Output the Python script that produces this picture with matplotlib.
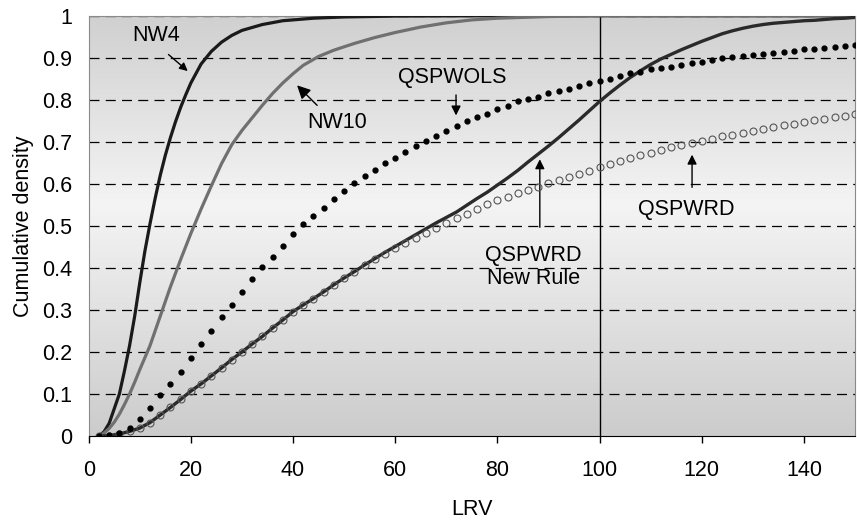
import numpy as np
import matplotlib
matplotlib.use("Agg")
import matplotlib.pyplot as plt
from matplotlib.colors import LinearSegmentedColormap

plt.rcParams['font.family'] = ['Liberation Sans', 'DejaVu Sans']

# grid of the marker series (LRV)
lrv = np.arange(2, 151, 2)

qspwols = [0.000, 0.002, 0.008, 0.020, 0.040, 0.067, 0.097, 0.123, 0.152, 0.185,
           0.218, 0.250, 0.282, 0.312, 0.342, 0.373, 0.401, 0.427, 0.452, 0.480,
           0.504, 0.524, 0.543, 0.564, 0.582, 0.601, 0.619, 0.634, 0.649, 0.661,
           0.675, 0.689, 0.703, 0.714, 0.726, 0.737, 0.749, 0.758, 0.767, 0.777,
           0.786, 0.796, 0.802, 0.807, 0.815, 0.821, 0.826, 0.833, 0.839, 0.845,
           0.850, 0.857, 0.863, 0.867, 0.872, 0.875, 0.879, 0.883, 0.887, 0.891,
           0.895, 0.899, 0.901, 0.904, 0.906, 0.910, 0.912, 0.914, 0.917, 0.920,
           0.921, 0.923, 0.926, 0.927, 0.930]

qspwrd = [0.000, 0.001, 0.005, 0.011, 0.019, 0.032, 0.050, 0.068, 0.087, 0.107,
          0.124, 0.143, 0.162, 0.182, 0.200, 0.219, 0.237, 0.257, 0.276, 0.296,
          0.312, 0.327, 0.343, 0.360, 0.376, 0.390, 0.406, 0.420, 0.434, 0.447,
          0.460, 0.472, 0.484, 0.496, 0.507, 0.518, 0.529, 0.540, 0.551, 0.561,
          0.569, 0.577, 0.585, 0.593, 0.601, 0.608, 0.616, 0.623, 0.631, 0.639,
          0.647, 0.654, 0.661, 0.668, 0.673, 0.680, 0.687, 0.692, 0.697, 0.702,
          0.707, 0.713, 0.717, 0.721, 0.726, 0.730, 0.735, 0.739, 0.743, 0.747,
          0.751, 0.755, 0.758, 0.761, 0.765]

new_rule = [0.000, 0.001, 0.005, 0.011, 0.019, 0.032, 0.050, 0.068, 0.087, 0.107,
            0.124, 0.143, 0.162, 0.182, 0.200, 0.219, 0.237, 0.257, 0.276, 0.296,
            0.312, 0.327, 0.343, 0.360, 0.376, 0.391, 0.407, 0.422, 0.437, 0.451,
            0.465, 0.479, 0.493, 0.507, 0.520, 0.533, 0.549, 0.565, 0.580, 0.597,
            0.614, 0.632, 0.652, 0.671, 0.690, 0.710, 0.731, 0.752, 0.774, 0.796,
            0.816, 0.835, 0.853, 0.869, 0.884, 0.897, 0.908, 0.919, 0.929, 0.939,
            0.948, 0.957, 0.964, 0.970, 0.975, 0.979, 0.982, 0.984, 0.986, 0.988,
            0.989, 0.991, 0.993, 0.994, 0.996]

nw4_x = [2, 3, 4, 5, 6, 7, 8, 9, 10, 11, 12, 13, 14, 15, 16, 17, 18, 19, 20,
         22, 24, 26, 28, 30, 34, 38, 44, 50, 60, 80, 150]
nw4_y = [0.0, 0.01, 0.03, 0.065, 0.10, 0.155, 0.215, 0.285, 0.365, 0.44, 0.505,
         0.565, 0.62, 0.668, 0.71, 0.748, 0.782, 0.812, 0.84, 0.885, 0.915, 0.937,
         0.953, 0.965, 0.979, 0.988, 0.994, 0.997, 0.999, 1.0, 1.0]

nw10_x = [2, 3, 4, 5, 6, 7, 8, 9, 10, 12, 14, 16, 18, 20, 22, 24, 26, 28, 30, 32,
          34, 36, 38, 40, 42, 45, 48, 52, 56, 60, 65, 70, 75, 80, 90, 100, 150]
nw10_y = [0.0, 0.007, 0.018, 0.033, 0.052, 0.075, 0.1, 0.128, 0.158, 0.215, 0.285,
          0.355, 0.42, 0.482, 0.54, 0.595, 0.648, 0.693, 0.727, 0.757, 0.787, 0.815,
          0.84, 0.862, 0.882, 0.903, 0.918, 0.934, 0.948, 0.96, 0.973, 0.983, 0.99,
          0.994, 0.998, 1.0, 1.0]

xticks = [0, 20, 40, 60, 80, 100, 120, 140]
yticks = [0, 0.1, 0.2, 0.3, 0.4, 0.5, 0.6, 0.7, 0.8, 0.9, 1]
ytick_labels = ['0', '0.1', '0.2', '0.3', '0.4', '0.5', '0.6', '0.7', '0.8', '0.9', '1']

FS = 15.5

fig = plt.figure(figsize=(8.57, 5.23), dpi=100)
ax = fig.add_axes([0.1035, 0.1663, 0.8942, 0.8037])
ax.set_xlim(0, 150)
ax.set_ylim(0, 1)

# gray-white-gray background
bg = LinearSegmentedColormap.from_list('bg', [(0, '#cccccc'), (0.55, '#f4f4f4'), (1, '#d0d0d0')])
grad = np.linspace(0, 1, 256).reshape(-1, 1)
ax.imshow(grad, cmap=bg, extent=[0, 150, 0, 1], origin='lower', aspect='auto', zorder=0)

for yv in yticks[1:]:
    ax.axhline(yv, color='black', lw=0.9, ls=(0, (8, 5)), zorder=1)
ax.axvline(100, color='black', lw=1.0, zorder=1)

ax.plot(nw4_x, nw4_y, color='#1a1a1a', lw=2.3, zorder=3)
ax.plot(nw10_x, nw10_y, color='#707070', lw=2.3, zorder=3)
ax.plot(lrv, new_rule, color='#2a2a2a', lw=2.4, zorder=3)
ax.plot(lrv, qspwrd, ls='none', marker='o', ms=5, mfc='none', mec='#555555', mew=0.8, zorder=4)
ax.plot(lrv, qspwols, ls='none', marker='o', ms=3.5, color='black', zorder=4)

arrow = dict(arrowstyle='-|>', color='black', lw=1, mutation_scale=14)
ax.annotate('', xy=(19.8, 0.864), xytext=(15.2, 0.912),
            arrowprops=dict(arrowstyle='-|>', color='black', lw=1, mutation_scale=12))
ax.text(13.2, 0.954, 'NW4', fontsize=FS, ha='center', va='center')
ax.annotate('', xy=(40.4, 0.839), xytext=(45.1, 0.782),
            arrowprops=dict(arrowstyle='-|>', color='black', lw=1, mutation_scale=20))
ax.text(48.6, 0.747, 'NW10', fontsize=FS, ha='center', va='center')
ax.annotate('', xy=(71.9, 0.756), xytext=(71.9, 0.818), arrowprops=arrow)
ax.text(71.1, 0.852, 'QSPWOLS', fontsize=FS, ha='center', va='center')
ax.annotate('', xy=(88.3, 0.665), xytext=(88.3, 0.49), arrowprops=arrow)
ax.text(87.0, 0.402, 'QSPWRD\nNew Rule', fontsize=FS, ha='center', va='center',
        linespacing=1.1)
ax.annotate('', xy=(118.1, 0.676), xytext=(118.1, 0.585), arrowprops=arrow)
ax.text(117.0, 0.538, 'QSPWRD', fontsize=FS, ha='center', va='center')

ax.set_xticks(xticks)
ax.set_yticks(yticks)
ax.set_yticklabels(ytick_labels)
ax.tick_params(axis='y', length=0, pad=12, labelsize=FS)
ax.tick_params(axis='x', length=5, width=1, direction='out', pad=12, labelsize=FS)
ax.set_xlabel('LRV', fontsize=FS, labelpad=13)
ax.set_ylabel('Cumulative density', fontsize=FS, labelpad=6)

for side in ['left', 'top', 'right']:
    ax.spines[side].set_color('#8a8a8a')
ax.spines['bottom'].set_color('black')
ax.spines['bottom'].set_zorder(6)

fig.savefig('out.png', dpi=100)
